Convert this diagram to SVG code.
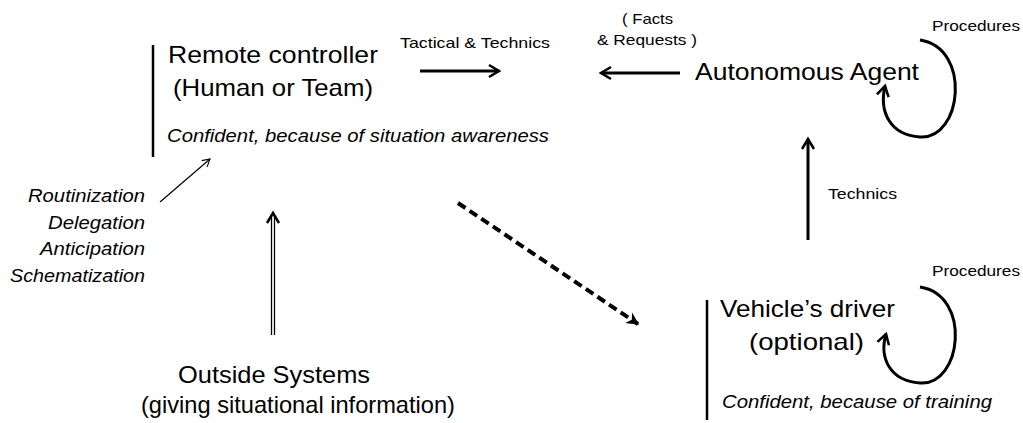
<svg xmlns="http://www.w3.org/2000/svg" width="1023" height="423" viewBox="0 0 1023 423">
<style>
.t{font-family:"Liberation Sans",Arial,sans-serif;fill:#000}
.big{font-size:24px}
.sm{font-size:15px}
.it{font-size:18px;font-style:italic}
.ln{fill:none;stroke:#000}
</style>
<defs>
<marker id="chevS" viewBox="0 0 12 12" refX="10" refY="6" markerWidth="16" markerHeight="16" orient="auto" markerUnits="userSpaceOnUse">
<path d="M2.5,1.5 L10,6 L2.5,10.5" fill="none" stroke="#000" stroke-width="1.9"/>
</marker>
<marker id="chevT" viewBox="0 0 12 12" refX="10" refY="6" markerWidth="11" markerHeight="11" orient="auto" markerUnits="userSpaceOnUse">
<path d="M2,1.5 L10,6 L2,10.5" fill="none" stroke="#000" stroke-width="1.2"/>
</marker>
<marker id="tri" viewBox="0 0 12 12" refX="10" refY="6" markerWidth="15" markerHeight="15" orient="auto" markerUnits="userSpaceOnUse">
<path d="M1,1 L11,6 L1,11 L4,6 Z" fill="#000"/>
</marker>
</defs>

<g id="remote-controller">
<line class="ln" x1="153" y1="45" x2="153" y2="157" stroke-width="2.5"/>
<text class="t big" x="168" y="63" textLength="210" lengthAdjust="spacingAndGlyphs">Remote controller</text>
<text class="t big" x="173" y="96" textLength="200" lengthAdjust="spacingAndGlyphs">(Human or Team)</text>
<text class="t it" x="167" y="142" textLength="382" lengthAdjust="spacingAndGlyphs">Confident, because of situation awareness</text>
</g>

<g id="autonomous-agent">
<text class="t big" x="695" y="80" textLength="224" lengthAdjust="spacingAndGlyphs">Autonomous Agent</text>
<text class="t sm" x="932" y="31" textLength="88" lengthAdjust="spacingAndGlyphs">Procedures</text>
</g>

<g id="vehicle-driver">
<line class="ln" x1="707" y1="300" x2="707" y2="420" stroke-width="2.5"/>
<text class="t big" x="720" y="317" textLength="175" lengthAdjust="spacingAndGlyphs">Vehicle’s driver</text>
<text class="t big" x="749" y="350" textLength="115" lengthAdjust="spacingAndGlyphs">(optional)</text>
<text class="t it" x="722" y="408" textLength="270" lengthAdjust="spacingAndGlyphs">Confident, because of training</text>
<text class="t sm" x="932" y="276" textLength="88" lengthAdjust="spacingAndGlyphs">Procedures</text>
</g>

<g id="outside-systems">
<text class="t big" x="274" y="383" text-anchor="middle" textLength="192" lengthAdjust="spacingAndGlyphs">Outside Systems</text>
<text class="t big" x="298" y="413" text-anchor="middle" textLength="314" lengthAdjust="spacingAndGlyphs">(giving situational information)</text>
</g>

<g id="strategies">
<text class="t it" x="145" y="202" text-anchor="end" textLength="117" lengthAdjust="spacingAndGlyphs">Routinization</text>
<text class="t it" x="145" y="229" text-anchor="end" textLength="97" lengthAdjust="spacingAndGlyphs">Delegation</text>
<text class="t it" x="145" y="255" text-anchor="end" textLength="105" lengthAdjust="spacingAndGlyphs">Anticipation</text>
<text class="t it" x="145" y="282" text-anchor="end" textLength="135" lengthAdjust="spacingAndGlyphs">Schematization</text>
</g>

<g id="connectors">
<text class="t sm" x="400" y="48" textLength="150" lengthAdjust="spacingAndGlyphs">Tactical &amp; Technics</text>
<line class="ln" x1="420" y1="71" x2="499" y2="71" stroke-width="3" marker-end="url(#chevS)"/>
<text class="t sm" x="622" y="24" textLength="51" lengthAdjust="spacingAndGlyphs">( Facts</text>
<text class="t sm" x="597" y="45" textLength="100" lengthAdjust="spacingAndGlyphs">&amp; Requests )</text>
<line class="ln" x1="680" y1="73" x2="601" y2="73" stroke-width="3" marker-end="url(#chevS)"/>
<path class="ln" d="M920,40 C972,48 962,140 920,137 C890,135 879,112 885,86" stroke-width="3" marker-end="url(#chevS)"/>
<line class="ln" x1="808" y1="240" x2="808" y2="139" stroke-width="3" marker-end="url(#chevS)"/>
<text class="t sm" x="828" y="199" textLength="69" lengthAdjust="spacingAndGlyphs">Technics</text>
<path class="ln" d="M920,287 C972,295 962,386 920,383 C890,381 879,358 886,334" stroke-width="3" marker-end="url(#chevS)"/>
<line class="ln" x1="458" y1="203" x2="638" y2="324" stroke-width="4" stroke-dasharray="9,5" marker-end="url(#tri)"/>
<line class="ln" x1="160" y1="202" x2="210" y2="159" stroke-width="1.2" marker-end="url(#chevT)"/>
<line class="ln" x1="271.5" y1="335" x2="271.5" y2="216" stroke-width="1.3"/>
<line class="ln" x1="274.5" y1="335" x2="274.5" y2="216" stroke-width="1.3"/>
<path class="ln" d="M267,223 L273,213 L279,223" stroke-width="2.5"/>
</g>
</svg>
